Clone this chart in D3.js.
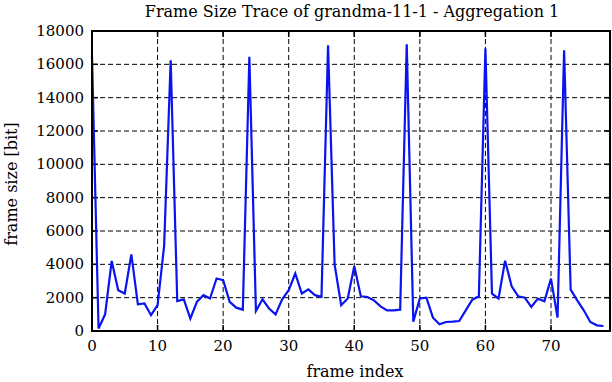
<!DOCTYPE html>
<html><head><meta charset="utf-8">
<script src="https://cdn.jsdelivr.net/npm/d3@7/dist/d3.min.js"></script>
<style>body{margin:0;background:#fff}svg{display:block}text{font-family:"DejaVu Serif",serif;fill:#000}</style>
</head><body>
<script>
const frames = d3.range(0, 79);
const frameSize = [16500,150,1000,4200,2450,2250,4600,1600,1650,950,1550,5100,16250,1800,1900,750,1750,2150,1950,3150,3050,1750,1400,1280,16450,1200,1900,1350,1000,1900,2450,3450,2250,2500,2150,2050,17150,4000,1550,1950,3880,2080,2040,1840,1480,1240,1240,1280,17200,560,1950,2000,800,400,540,560,600,1240,1880,2080,16950,2240,1950,4220,2680,2080,2000,1440,1940,1780,3140,800,16850,2480,1840,1240,540,340,300];
const xTicks = [0,10,20,30,40,50,60,70];
const yTicks = [0,2000,4000,6000,8000,10000,12000,14000,16000,18000];
const title = "Frame Size Trace of grandma-11-1 - Aggregation 1";
const xLabel = "frame index";
const yLabel = "frame size [bit]";

const W=612,H=382, L=92, R=610, T=31, B=331;
const svg=d3.select("body").append("svg").attr("width",W).attr("height",H);
const x=d3.scaleLinear().domain([0,79]).range([L,R]);
const y=d3.scaleLinear().domain([0,18000]).range([B,T]);

// grid
svg.append("g").selectAll("line").data(xTicks.filter(d=>d>0)).join("line")
  .attr("x1",d=>x(d)).attr("x2",d=>x(d)).attr("y1",T).attr("y2",B)
  .attr("stroke","#000").attr("stroke-width",1).attr("stroke-dasharray","5,3");
svg.append("g").selectAll("line").data(yTicks.filter(d=>d>0&&d<18000)).join("line")
  .attr("x1",L).attr("x2",R).attr("y1",d=>y(d)).attr("y2",d=>y(d))
  .attr("stroke","#000").attr("stroke-width",1).attr("stroke-dasharray","5,3");

// ticks (inner, mirrored)
const tk=svg.append("g").attr("stroke","#000").attr("stroke-width",1.5);
xTicks.forEach(d=>{
  tk.append("line").attr("x1",x(d)).attr("x2",x(d)).attr("y1",B).attr("y2",B-6);
  tk.append("line").attr("x1",x(d)).attr("x2",x(d)).attr("y1",T).attr("y2",T+6);
});
yTicks.forEach(d=>{
  tk.append("line").attr("x1",L).attr("x2",L+6).attr("y1",y(d)).attr("y2",y(d));
  tk.append("line").attr("x1",R).attr("x2",R-6).attr("y1",y(d)).attr("y2",y(d));
});

// data line
const line=d3.line().x((d,i)=>x(frames[i])).y(d=>y(d));
svg.append("path").datum(frameSize).attr("d",line).attr("fill","none")
  .attr("stroke","#0a14f0").attr("stroke-width",2.2).attr("stroke-linejoin","miter");

// border
svg.append("rect").attr("x",L).attr("y",T).attr("width",R-L).attr("height",B-T)
  .attr("fill","none").attr("stroke","#000").attr("stroke-width",2);

// tick labels
svg.append("g").selectAll("text").data(xTicks).join("text")
  .attr("x",d=>x(d)).attr("y",B+20).attr("text-anchor","middle")
  .attr("font-size",15).text(d=>d);
svg.append("g").selectAll("text").data(yTicks).join("text")
  .attr("x",L-8).attr("y",d=>y(d)+5).attr("text-anchor","end")
  .attr("font-size",15).text(d=>d);

svg.append("text").attr("x",352).attr("y",17).attr("text-anchor","middle")
  .attr("font-size",16).text(title);
svg.append("text").attr("x",355).attr("y",377).attr("text-anchor","middle")
  .attr("font-size",16).text(xLabel);
svg.append("text").attr("transform","translate(17,184) rotate(-90)").attr("text-anchor","middle")
  .attr("font-size",16).text(yLabel);
</script>
</body></html>
